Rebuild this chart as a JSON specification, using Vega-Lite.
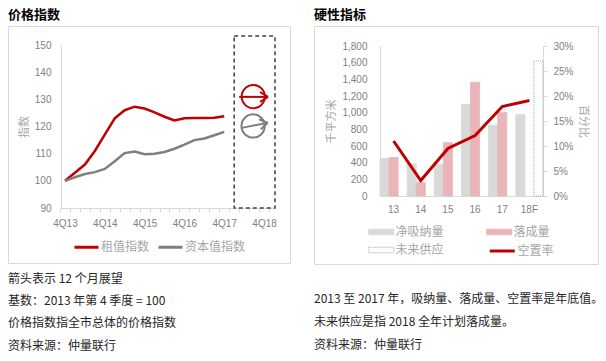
{
  "$schema": "https://vega.github.io/schema/vega-lite/v6.json",
  "background": "white",
  "padding": {"left": 7, "top": 8, "right": 0, "bottom": 0},
  "datasets": {
    "idx": [
      {"q": 0, "series": "租值指数", "v": 100}, {"q": 1, "series": "租值指数", "v": 103}, {"q": 2, "series": "租值指数", "v": 106}, {"q": 3, "series": "租值指数", "v": 111}, {"q": 4, "series": "租值指数", "v": 117}, {"q": 5, "series": "租值指数", "v": 123}, {"q": 6, "series": "租值指数", "v": 126}, {"q": 7, "series": "租值指数", "v": 127.3}, {"q": 8, "series": "租值指数", "v": 126.6}, {"q": 9, "series": "租值指数", "v": 125.2}, {"q": 10, "series": "租值指数", "v": 123.6}, {"q": 11, "series": "租值指数", "v": 122.2}, {"q": 12, "series": "租值指数", "v": 123}, {"q": 13, "series": "租值指数", "v": 123.1}, {"q": 14, "series": "租值指数", "v": 123.1}, {"q": 15, "series": "租值指数", "v": 123.2}, {"q": 16, "series": "租值指数", "v": 123.8},
      {"q": 0, "series": "资本值指数", "v": 100}, {"q": 1, "series": "资本值指数", "v": 101.3}, {"q": 2, "series": "资本值指数", "v": 102.5}, {"q": 3, "series": "资本值指数", "v": 103.2}, {"q": 4, "series": "资本值指数", "v": 104.4}, {"q": 5, "series": "资本值指数", "v": 107.2}, {"q": 6, "series": "资本值指数", "v": 110.2}, {"q": 7, "series": "资本值指数", "v": 110.8}, {"q": 8, "series": "资本值指数", "v": 109.8}, {"q": 9, "series": "资本值指数", "v": 110}, {"q": 10, "series": "资本值指数", "v": 110.6}, {"q": 11, "series": "资本值指数", "v": 111.8}, {"q": 12, "series": "资本值指数", "v": 113.3}, {"q": 13, "series": "资本值指数", "v": 115}, {"q": 14, "series": "资本值指数", "v": 115.6}, {"q": 15, "series": "资本值指数", "v": 116.8}, {"q": 16, "series": "资本值指数", "v": 118}
    ],
    "arrows": [
      {"series": "租值指数", "q": 17.5, "v": 130.9, "q2": 20.4, "v2": 130.9},
      {"series": "租值指数", "q": 19.6, "v": 132.7, "q2": 20.4, "v2": 130.9},
      {"series": "租值指数", "q": 19.6, "v": 129.1, "q2": 20.4, "v2": 130.9},
      {"series": "资本值指数", "q": 17.76, "v": 119.5, "q2": 20.37, "v2": 121.4},
      {"series": "资本值指数", "q": 19.68, "v": 119.0, "q2": 20.37, "v2": 121.4},
      {"series": "资本值指数", "q": 19.49, "v": 122.6, "q2": 20.37, "v2": 121.4}
    ],
    "circles": [
      {"series": "租值指数", "q": 18.92, "v": 131.0},
      {"series": "资本值指数", "q": 18.9, "v": 120.2}
    ],
    "box": [{"q": 17, "q2": 21.1, "v": 90, "v2": 153.3}],
    "bars": [
      {"cat": "13", "series": "净吸纳量", "value": 450}, {"cat": "13", "series": "落成量", "value": 460},
      {"cat": "14", "series": "净吸纳量", "value": 385}, {"cat": "14", "series": "落成量", "value": 160},
      {"cat": "15", "series": "净吸纳量", "value": 380}, {"cat": "15", "series": "落成量", "value": 640},
      {"cat": "16", "series": "净吸纳量", "value": 1100}, {"cat": "16", "series": "落成量", "value": 1365},
      {"cat": "17", "series": "净吸纳量", "value": 850}, {"cat": "17", "series": "落成量", "value": 1000},
      {"cat": "18F", "series": "净吸纳量", "value": 975}, {"cat": "18F", "series": "未来供应", "value": 1620}
    ],
    "vac": [
      {"cat": "13", "metric": "空置率", "pct": 0.11}, {"cat": "14", "metric": "空置率", "pct": 0.031}, {"cat": "15", "metric": "空置率", "pct": 0.095}, {"cat": "16", "metric": "空置率", "pct": 0.121}, {"cat": "17", "metric": "空置率", "pct": 0.179}, {"cat": "18F", "metric": "空置率", "pct": 0.191}
    ],
    "notesL": [
      {"row": 0, "text": "箭头表示 12 个月展望"},
      {"row": 1, "text": "基数：2013 年第 4 季度 = 100"},
      {"row": 2, "text": "价格指数指全市总体的价格指数"},
      {"row": 3, "text": "资料来源：仲量联行"}
    ],
    "notesR": [
      {"row": 0, "text": "2013 至 2017 年，吸纳量、落成量、空置率是年底值。"},
      {"row": 1, "text": "未来供应是指 2018 全年计划落成量。"},
      {"row": 2, "text": "资料来源：仲量联行"}
    ]
  },
  "hconcat": [
    {
      "spacing": 3.5,
      "resolve": {"scale": {"color": "independent", "fill": "independent", "stroke": "independent", "strokeDash": "independent"}, "legend": {"color": "independent", "fill": "independent", "stroke": "independent", "strokeDash": "independent"}},
      "vconcat": [
        {
          "width": 282,
          "height": 237,
          "view": {"stroke": "#d9d9d9"},
          "title": {"text": "价格指数", "anchor": "start", "frame": "group", "fontSize": 13, "fontWeight": "bold", "color": "#000000", "offset": 4},
          "encoding": {
            "x": {"field": "q", "type": "quantitative",
              "scale": {"domain": [-0.5, 21], "range": [52, 266], "nice": false, "zero": false},
              "axis": {"orient": "bottom", "offset": -55, "title": null,
                "values": [-0.5, 0.5, 1.5, 2.5, 3.5, 4.5, 5.5, 6.5, 7.5, 8.5, 9.5, 10.5, 11.5, 12.5, 13.5, 14.5, 15.5, 16.5, 17.5, 18.5, 19.5, 20.5],
                "labelExpr": "(datum.value + 0.5) % 4 == 0 && datum.value < 20 ? '4Q' + (13 + (datum.value + 0.5) / 4) : ''",
                "labelOffset": 5, "labelOverlap": false, "labelFlush": false, "labelBound": false,
                "ticks": true, "tickSize": 4, "tickColor": "#d9d9d9", "labelPadding": 6}},
            "y": {"field": "v", "type": "quantitative",
              "scale": {"domain": [90, 150], "range": [182, 19], "nice": false, "zero": false},
              "axis": {"orient": "left", "offset": -53, "title": "指数", "values": [90, 100, 110, 120, 130, 140, 150], "tickCount": 7, "labelOverlap": false, "labelPadding": 10, "titlePadding": 5}},
            "color": {"field": "series", "type": "nominal",
              "scale": {"domain": ["租值指数", "资本值指数"], "range": ["#c00000", "#7f7f7f"]},
              "legend": {"orient": "none", "legendX": 71, "legendY": 213.5, "direction": "horizontal", "title": null,
                "symbolType": "M-2,0H2", "symbolSize": 144, "symbolStrokeWidth": 3, "labelOffset": 7, "columnPadding": 2, "padding": 0,
                "labelFontSize": 12, "labelColor": "#a6a6a6", "labelFont": "Noto Sans CJK SC"}}
          },
          "layer": [
            {
              "data": {"name": "idx"},
              "mark": {"type": "line", "strokeWidth": 2.5}
            },
            {
              "data": {"name": "arrows"},
              "mark": {"type": "rule", "strokeWidth": 2},
              "encoding": {
                "x2": {"field": "q2"},
                "y2": {"field": "v2"}
              }
            },
            {
              "data": {"name": "circles"},
              "mark": {"type": "point", "shape": "circle", "filled": false, "size": 540, "strokeWidth": 2, "opacity": 1}
            },
            {
              "data": {"name": "box"},
              "mark": {"type": "rect", "fill": null, "fillOpacity": 0, "stroke": "#404040", "strokeDash": [4, 3], "strokeWidth": 1.5},
              "encoding": {
                "x2": {"field": "q2"},
                "y2": {"field": "v2"},
                "color": {"value": "#404040"}
              }
            }
          ]
        },
        {
          "width": 282,
          "height": {"step": 22.3},
          "view": {"stroke": null},
          "data": {"name": "notesL"},
          "mark": {"type": "text", "align": "left", "baseline": "middle", "fontSize": 12, "color": "#262626", "font": "Noto Sans CJK SC"},
          "encoding": {
            "x": {"datum": 0, "type": "quantitative", "scale": {"domain": [0, 1]}, "axis": null},
            "y": {"field": "row", "type": "ordinal", "scale": {"type": "point", "padding": 0.5}, "axis": null},
            "text": {"field": "text"}
          }
        }
      ]
    },
    {
      "spacing": 22,
      "resolve": {"scale": {"color": "independent", "fill": "independent", "stroke": "independent", "strokeDash": "independent"}, "legend": {"color": "independent", "fill": "independent", "stroke": "independent", "strokeDash": "independent"}},
      "vconcat": [
        {
          "width": 284,
          "height": 238,
          "view": {"stroke": "#d9d9d9"},
          "title": {"text": "硬性指标", "anchor": "start", "frame": "group", "fontSize": 13, "fontWeight": "bold", "color": "#000000", "offset": 4},
          "layer": [
            {
              "data": {"name": "bars"},
              "mark": {"type": "bar", "strokeWidth": 1},
              "encoding": {
                "x": {"field": "cat", "type": "nominal", "sort": null,
                  "scale": {"domain": ["13", "14", "15", "16", "17", "18F"], "range": [66, 229], "paddingInner": 0, "paddingOuter": 0},
                  "axis": {"orient": "bottom", "offset": -68, "labelAngle": 0, "title": null, "labelPadding": 8, "ticks": false}},
                "xOffset": {"field": "series", "type": "nominal", "scale": {"domain": ["净吸纳量", "落成量", "未来供应"], "paddingInner": 0, "paddingOuter": 0}},
                "y": {"field": "value", "type": "quantitative",
                  "scale": {"domain": [0, 1800], "range": [170, 20], "nice": false},
                  "axis": {"orient": "left", "offset": -66, "title": "千平方米", "values": [0, 200, 400, 600, 800, 1000, 1200, 1400, 1600, 1800], "format": ",.0f", "labelOverlap": false, "labelPadding": 13, "titlePadding": 5}},
                "fill": {"field": "series", "type": "nominal",
                  "scale": {"domain": ["净吸纳量", "落成量", "未来供应"], "range": ["#d9d9d9", "#eab5b9", "#ffffff"]},
                  "legend": {"orient": "none", "legendX": 60.25, "legendY": 199, "title": null, "columns": 2, "direction": "horizontal",
                    "symbolType": "M-2,-0.44H2V0.44H-2Z", "symbolSize": 156.25, "symbolStrokeWidth": 1, "labelOffset": 7.25, "columnPadding": 40, "rowPadding": 5, "padding": 0,
                    "labelFontSize": 12, "labelColor": "#a6a6a6", "labelFont": "Noto Sans CJK SC"}},
                "stroke": {"field": "series", "type": "nominal",
                  "scale": {"domain": ["净吸纳量", "落成量", "未来供应"], "range": ["#d9d9d9", "#eab5b9", "#a6a6a6"]},
                  "legend": {"orient": "none", "legendX": 60.25, "legendY": 199, "title": null, "columns": 2, "direction": "horizontal",
                    "symbolType": "M-2,-0.44H2V0.44H-2Z", "symbolSize": 156.25, "symbolStrokeWidth": 1, "labelOffset": 7.25, "columnPadding": 40, "rowPadding": 5, "padding": 0,
                    "labelFontSize": 12, "labelColor": "#a6a6a6", "labelFont": "Noto Sans CJK SC"}},
                "strokeDash": {"field": "series", "type": "nominal",
                  "scale": {"domain": ["净吸纳量", "落成量", "未来供应"], "range": [[1, 0], [1, 0], [1, 1]]},
                  "legend": {"orient": "none", "legendX": 60.25, "legendY": 199, "title": null, "columns": 2, "direction": "horizontal",
                    "symbolType": "M-2,-0.44H2V0.44H-2Z", "symbolSize": 156.25, "symbolStrokeWidth": 1, "labelOffset": 7.25, "columnPadding": 40, "rowPadding": 5, "padding": 0,
                    "labelFontSize": 12, "labelColor": "#a6a6a6", "labelFont": "Noto Sans CJK SC"}}
              }
            },
            {
              "data": {"name": "vac"},
              "mark": {"type": "line", "strokeWidth": 3},
              "encoding": {
                "x": {"field": "cat", "type": "nominal", "sort": null},
                "y": {"field": "pct", "type": "quantitative",
                  "scale": {"domain": [0, 0.3], "range": [170, 20], "nice": false},
                  "axis": {"orient": "right", "offset": -55, "title": "百分比", "titleAngle": 90, "values": [0, 0.05, 0.1, 0.15, 0.2, 0.25, 0.3], "format": ".0%", "labelOverlap": false, "ticks": true, "tickSize": 4, "tickColor": "#d9d9d9", "labelPadding": 6, "titlePadding": 4}},
                "color": {"field": "metric", "type": "nominal",
                  "scale": {"domain": ["空置率"], "range": ["#c00000"]},
                  "legend": {"orient": "none", "legendX": 180.25, "legendY": 217, "title": null,
                    "symbolType": "M-2,0H2", "symbolSize": 156.25, "symbolStrokeWidth": 3, "labelOffset": 7.25, "padding": 0,
                    "labelFontSize": 12, "labelColor": "#a6a6a6", "labelFont": "Noto Sans CJK SC"}}
              }
            }
          ],
          "resolve": {"scale": {"y": "independent"}}
        },
        {
          "width": 284,
          "height": {"step": 23.3},
          "view": {"stroke": null},
          "data": {"name": "notesR"},
          "mark": {"type": "text", "align": "left", "baseline": "middle", "fontSize": 12, "color": "#262626", "font": "Noto Sans CJK SC"},
          "encoding": {
            "x": {"datum": 0, "type": "quantitative", "scale": {"domain": [0, 1]}, "axis": null},
            "y": {"field": "row", "type": "ordinal", "scale": {"type": "point", "padding": 0.5}, "axis": null},
            "text": {"field": "text"}
          }
        }
      ]
    }
  ],
  "spacing": 22,
  "resolve": {"scale": {"color": "independent", "fill": "independent", "stroke": "independent", "strokeDash": "independent"}, "legend": {"color": "independent", "fill": "independent", "stroke": "independent", "strokeDash": "independent"}},
  "config": {
    "view": {"stroke": null},
    "font": "Liberation Sans, Noto Sans CJK SC",
    "axis": {"grid": false, "ticks": false, "domainColor": "#d9d9d9", "labelColor": "#7f7f7f", "labelFontSize": 10, "labelFont": "Liberation Sans, Noto Sans CJK SC", "titleColor": "#a6a6a6", "titleFontSize": 11, "titleFontWeight": "normal", "titleFont": "Noto Sans CJK SC"},
    "title": {"font": "Noto Sans CJK SC"}
  }
}
